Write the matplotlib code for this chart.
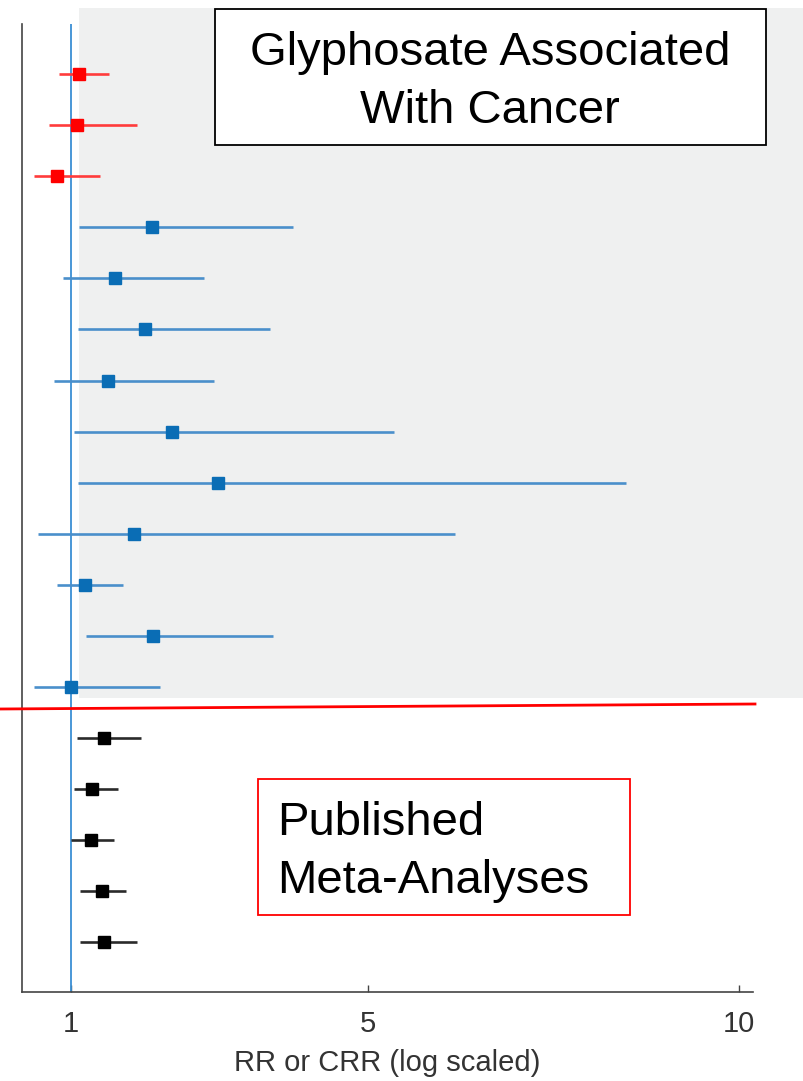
import matplotlib
matplotlib.use("Agg")
from matplotlib import pyplot as plt
from matplotlib.patches import Rectangle
from matplotlib.lines import Line2D

# point estimates and 95% intervals, top to bottom
est = [1.11, 1.09, 0.82, 2.09, 1.60, 2.00, 1.50, 2.36, 2.99, 1.85, 1.20, 2.11, 1.00,
       1.45, 1.29, 1.27, 1.42, 1.45]
lo = [0.84, 0.71, 0.50, 1.11, 0.90, 1.10, 0.77, 1.05, 1.10, 0.56, 0.81, 1.21, 0.50,
      1.09, 1.04, 1.01, 1.13, 1.12]
hi = [1.51, 1.90, 1.40, 4.00, 2.80, 3.69, 2.93, 5.36, 8.48, 6.18, 1.70, 3.73, 2.20,
      1.95, 1.64, 1.59, 1.75, 1.90]
group = ["red"] * 3 + ["blue"] * 10 + ["black"] * 5

xticks = [1, 5, 10]
xlabel = "RR or CRR (log scaled)"
top_note = ["Glyphosate Associated", "With Cancer"]
bottom_note = ["Published", "Meta-Analyses"]

marker_col = {"red": "#ff0000", "blue": "#0a6db5", "black": "#000000"}
line_col = {"red": "#ff3b3b", "blue": "#4a8fcb", "black": "#2a2a2a"}

W, H = 804, 1081
fig = plt.figure(figsize=(W / 100, H / 100), dpi=100)


def fx(x):
    return x / W


def fy(y):
    return 1 - y / H


# shaded block behind the individual studies
fig.patches.append(Rectangle((fx(79), fy(698)), fx(W) - fx(79), fy(8) - fy(698),
                             transform=fig.transFigure, facecolor="#eff0f0",
                             edgecolor="none", zorder=-5))

ax = fig.add_axes([fx(22), fy(992), fx(753) - fx(22), fy(24) - fy(992)])
ax.patch.set_alpha(0)

rows = list(range(1, len(est) + 1))
for r, e, l, h, g in zip(rows, est, lo, hi, group):
    ax.plot([l, h], [r, r], color=line_col[g], lw=1.9, solid_capstyle="butt", zorder=3)
    ax.plot(e, r, marker="s", ms=9, color=marker_col[g], mec=marker_col[g], zorder=4)

ax.axvline(1, color="#3a8fd4", lw=1.3, zorder=2)

ax.set_xlim(0.345, 10.19)
ax.set_ylim(18.97, 0.02)
ax.set_yticks([])
ax.set_xticks(xticks)
ax.set_xticklabels([str(t) for t in xticks], fontfamily="Liberation Sans", fontsize=21)
ax.tick_params(axis="x", direction="in", length=5, width=1, color="#444444", pad=13)
ax.set_xlabel(xlabel, fontfamily="Liberation Sans", fontsize=21, color="#333333",
              labelpad=8)
for lab in ax.get_xticklabels():
    lab.set_color("#333333")
for side in ["top", "right"]:
    ax.spines[side].set_visible(False)
for side in ["left", "bottom"]:
    ax.spines[side].set_color("#444444")
    ax.spines[side].set_linewidth(1.2)

# divider between single studies and meta-analyses
fig.lines.append(Line2D([fx(0), fx(755)], [fy(709), fy(704)], transform=fig.transFigure,
                        color="#ff0000", lw=2, zorder=6))

# annotation boxes, one text call per line so the baselines sit exactly
fig.patches.append(Rectangle((fx(215), fy(145)), fx(766) - fx(215), fy(9) - fy(145),
                             transform=fig.transFigure, facecolor="white",
                             edgecolor="black", lw=1.3, zorder=7))
for line, base in zip(top_note, [65, 123]):
    fig.text(fx(490), fy(base), line, ha="center", va="baseline",
             fontsize=34, fontfamily="Liberation Sans", zorder=8)

fig.patches.append(Rectangle((fx(258), fy(915)), fx(630) - fx(258), fy(779) - fy(915),
                             transform=fig.transFigure, facecolor="white",
                             edgecolor="#ff0000", lw=1.3, zorder=7))
for line, base in zip(bottom_note, [835, 893]):
    fig.text(fx(277), fy(base), line, ha="left", va="baseline",
             fontsize=34, fontfamily="Liberation Sans", zorder=8)

fig.savefig("out.png", dpi=100)
